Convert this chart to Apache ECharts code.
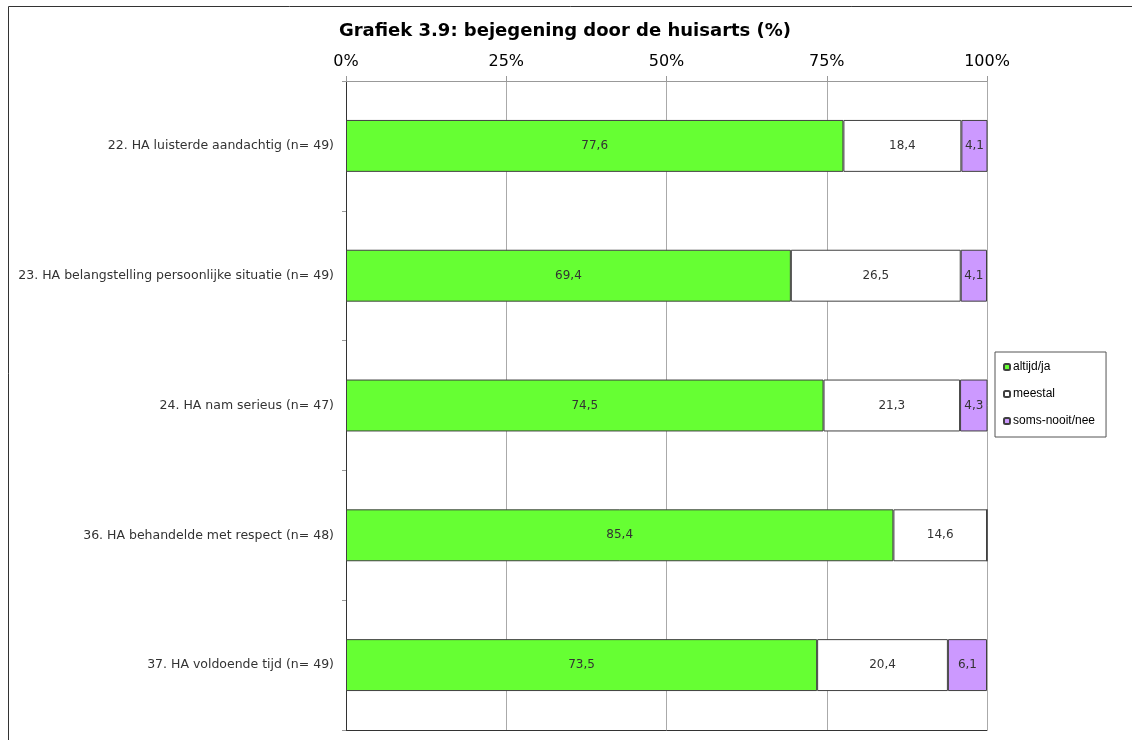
<!DOCTYPE html>
<html>
<head>
<meta charset="utf-8">
<script src="https://cdn.jsdelivr.net/npm/echarts@6/dist/echarts.min.js"></script>
<style>
html, body { margin: 0; padding: 0; background: #fff; }
#chart { width: 1132px; height: 740px; }
</style>
</head>
<body>
<div id="chart"></div>
<script>
// Questions about how the GP treated the patient
const categories = [
  '22. HA luisterde aandachtig (n= 49)',
  '23. HA belangstelling persoonlijke situatie (n= 49)',
  '24. HA nam serieus (n= 47)',
  '36. HA behandelde met respect (n= 48)',
  '37. HA voldoende tijd (n= 49)'
];
const seriesNames = ['altijd/ja', 'meestal', 'soms-nooit/nee'];
const altijd = [77.6, 69.4, 74.5, 85.4, 73.5];
const meestal = [18.4, 26.5, 21.3, 14.6, 20.4];
const somsNooit = [4.1, 4.1, 4.3, 0, 6.1];
const axisTicks = [0, 25, 50, 75, 100];

const colors = ['#66ff33', '#ffffff', '#cc99ff'];
const FONT = '"DejaVu Sans", Verdana, sans-serif';

function fmt(p) {
  return p.value > 0 ? p.value.toFixed(1).replace('.', ',') : '';
}

function makeSeries(name, data, i) {
  return {
    name: name,
    type: 'bar',
    stack: 'total',
    barWidth: '40%',
    data: data,
    itemStyle: { color: colors[i], borderColor: '#404040', borderWidth: 1 },
    label: {
      show: true,
      position: 'inside',
      formatter: fmt,
      color: '#333',
      fontFamily: FONT,
      fontSize: 12
    },
    emphasis: { disabled: true }
  };
}

const chart = echarts.init(document.getElementById('chart'));
chart.setOption({
  animation: false,
  backgroundColor: '#fff',
  title: {
    text: 'Grafiek 3.9: bejegening door de huisarts (%)',
    left: 560,
    textAlign: 'center',
    top: 17,
    textStyle: { fontFamily: FONT, fontSize: 18, fontWeight: 'bold', color: '#000' }
  },
  legend: {
    orient: 'vertical',
    left: 995,
    top: 352,
    padding: [8, 11, 9, 8],
    itemGap: 13,
    itemWidth: 6,
    itemHeight: 6,
    borderColor: '#555',
    borderWidth: 1,
    data: seriesNames,
    textStyle: {
      fontFamily: '"Liberation Sans", Arial, sans-serif',
      fontSize: 12,
      lineHeight: 14,
      color: '#000',
      padding: [0, 0, 0, -2]
    }
  },
  grid: { left: 346, right: 145, top: 81, bottom: 10 },
  xAxis: [{
    type: 'value',
    position: 'top',
    min: 0,
    max: 100,
    interval: 25,
    axisLine: { show: true, lineStyle: { color: '#999' } },
    axisTick: { show: true, length: 5, lineStyle: { color: '#999' } },
    splitLine: { show: true, lineStyle: { color: '#aaa' } },
    axisLabel: {
      fontFamily: FONT, fontSize: 16, color: '#000', margin: 11,
      formatter: v => axisTicks.includes(v) ? v + '%' : ''
    }
  }, {
    type: 'value',
    position: 'bottom',
    min: 0,
    max: 100,
    axisLine: { show: true, lineStyle: { color: '#333' } },
    axisTick: { show: false },
    splitLine: { show: false },
    axisLabel: { show: false }
  }],
  yAxis: [{
    type: 'category',
    inverse: true,
    data: categories,
    axisLine: { show: true, lineStyle: { color: '#999' } },
    axisTick: { show: true, length: 4, lineStyle: { color: '#999' } },
    axisLabel: { fontFamily: FONT, fontSize: 12.5, color: '#333', margin: 12 }
  }, {
    type: 'category',
    position: 'right',
    inverse: true,
    data: categories,
    axisLine: { show: true, lineStyle: { color: '#333' } },
    axisTick: { show: false },
    axisLabel: { show: false }
  }],
  graphic: [{
    type: 'polyline',
    shape: { points: [[8.5, 740], [8.5, 6.5], [1132, 6.5]] },
    style: { stroke: '#333', lineWidth: 1, fill: null }
  }],
  series: [
    makeSeries(seriesNames[0], altijd, 0),
    makeSeries(seriesNames[1], meestal, 1),
    makeSeries(seriesNames[2], somsNooit, 2)
  ]
});
</script>
</body>
</html>
